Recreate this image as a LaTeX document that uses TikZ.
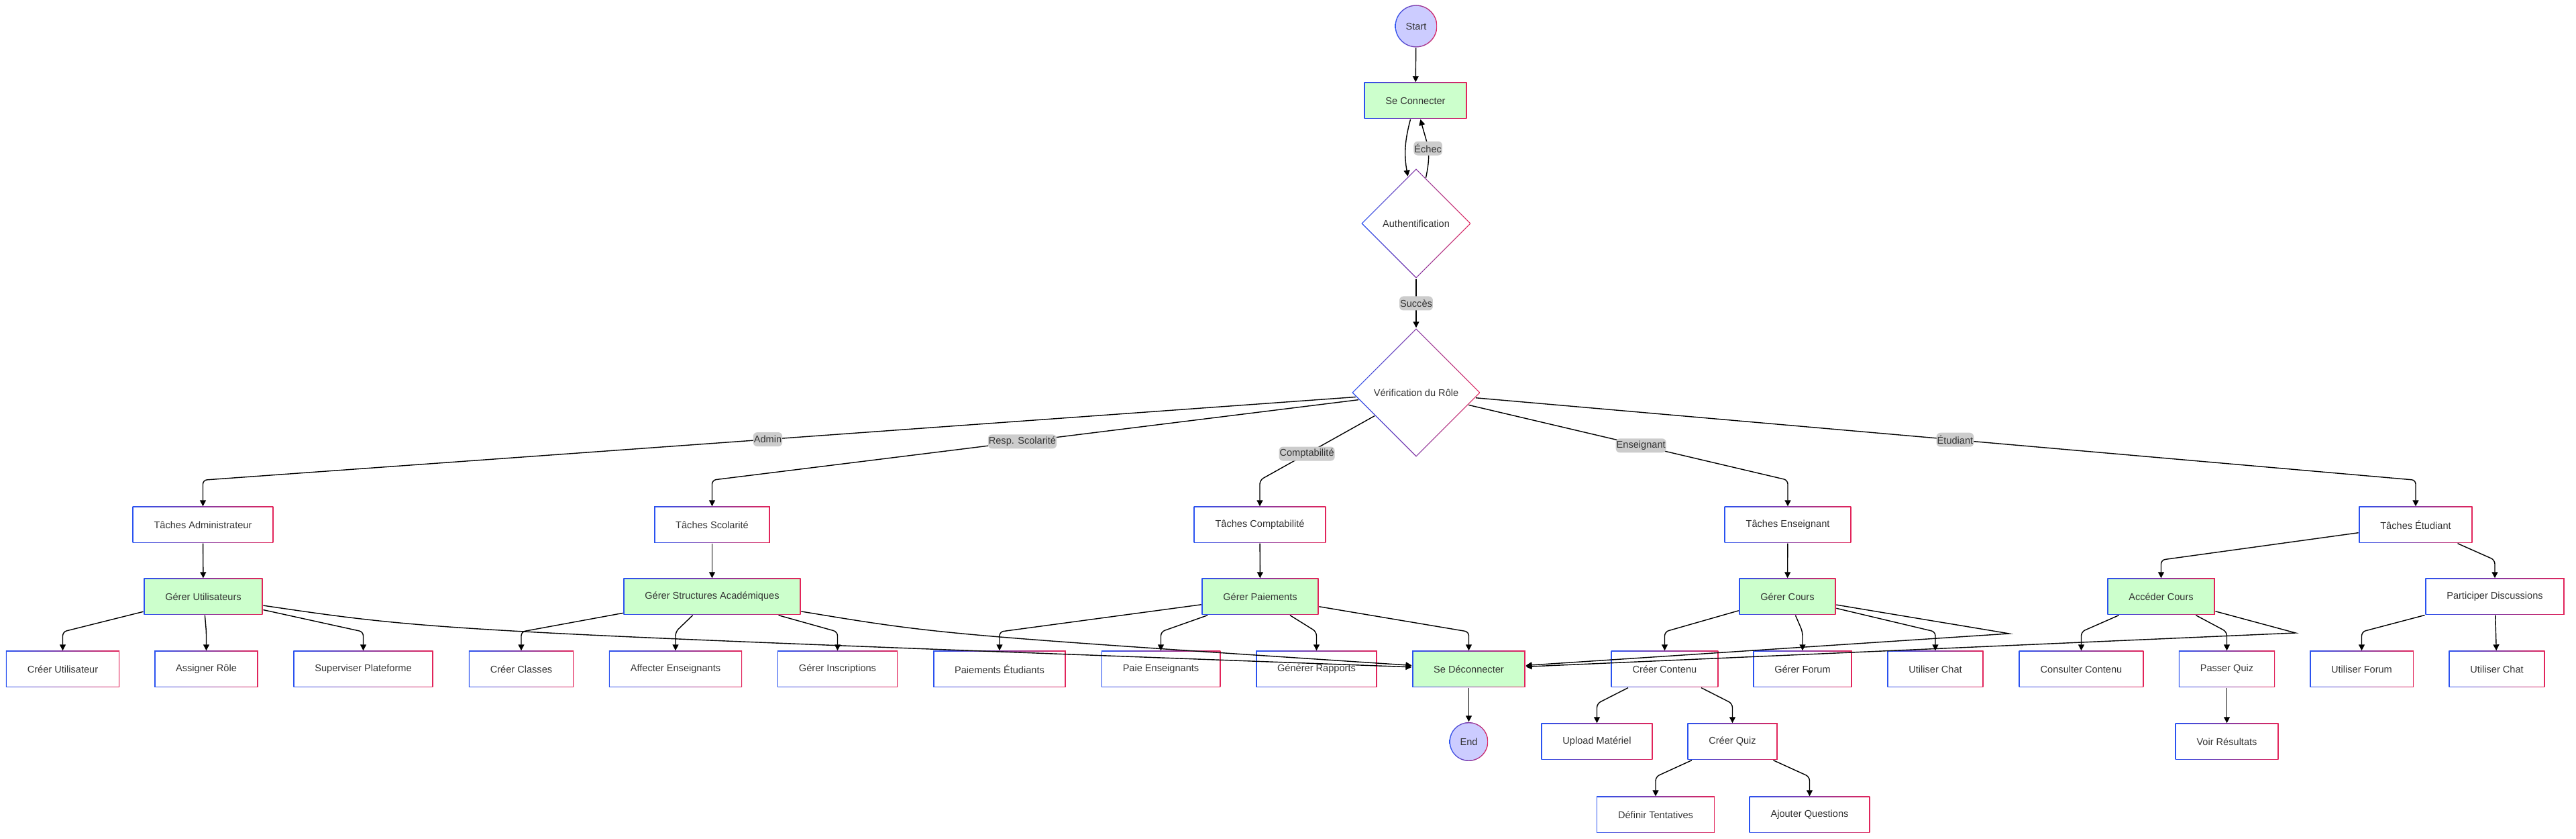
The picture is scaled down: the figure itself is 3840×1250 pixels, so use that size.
\documentclass[tikz,border=0pt]{standalone}
\usepackage{fontspec}
\setmainfont{Liberation Sans}
\usetikzlibrary{calc, positioning, shapes, arrows.meta}

\definecolor{bordblue}{HTML}{2A52F0}
\definecolor{bordred}{HTML}{E2245A}
\definecolor{greenfill}{HTML}{CCFFCC}
\definecolor{lavfill}{HTML}{CCCCFF}
\definecolor{txtgray}{HTML}{333333}
\definecolor{lblgray}{HTML}{CCCCCC}

\tikzset{
  gbox/.style={rectangle, fill=white, minimum height=5.4mm, inner xsep=3.2mm, inner ysep=0pt, text=txtgray,
    path picture={
      \shade[left color=bordblue, right color=bordred]
        (path picture bounding box.south west) rectangle (path picture bounding box.north east);
      \fill[#1]
        ([shift={(0.4pt,0.4pt)}]path picture bounding box.south west) rectangle
        ([shift={(-0.4pt,-0.4pt)}]path picture bounding box.north east);}},
  gbox/.default=white,
  decision/.style={diamond, aspect=1, inner sep=0pt, minimum width=#1, minimum height=#1, fill=white, text=txtgray,
    path picture={
      \shade[left color=bordblue, right color=bordred]
        (path picture bounding box.south west) rectangle (path picture bounding box.north east);
      \fill[white] ([yshift=-0.55pt]path picture bounding box.north) -- ([xshift=-0.55pt]path picture bounding box.east)
        -- ([yshift=0.55pt]path picture bounding box.south) -- ([xshift=0.55pt]path picture bounding box.west) -- cycle;}},
  startstop/.style={circle, inner sep=0pt, minimum size=#1, fill=lavfill, text=txtgray,
    path picture={
      \shade[left color=bordblue, right color=bordred]
        (path picture bounding box.south west) rectangle (path picture bounding box.north east);
      \fill[lavfill] (path picture bounding box.center) circle [radius={#1/2-0.4pt}];}},
  arr/.style={draw=black, line width=0.4pt, rounded corners=0.6mm, -{Triangle[length=0.9mm,width=0.9mm]}},
  elabel/.style={fill=lblgray, text=txtgray, inner xsep=0.3pt, inner ysep=0pt, minimum height=2.1mm}
}

\begin{document}
\begin{tikzpicture}[x=0.1mm, y=0.1mm, font=\fontsize{4.15pt}{5pt}\selectfont]
    \path[use as bounding box, fill=white] (0,0) rectangle (3840,-1250);

    % login
    \node[startstop=6.3mm] (start) at (2111,-39) {Start};
    \node[gbox=greenfill] (conn) at (2110,-150) {Se Connecter};
    \node[decision=16.4mm] (auth) at (2111,-333) {Authentification};
    \node[decision=19.2mm] (role) at (2111,-585) {Vérification du Rôle};

    % roles
    \node[gbox] (tadmin) at (302.5,-782) {Tâches Administrateur};
    \node[gbox] (tscol) at (1061.5,-782) {Tâches Scolarité};
    \node[gbox] (tcompta) at (1878,-782) {Tâches Comptabilité};
    \node[gbox] (tens) at (2665,-782) {Tâches Enseignant};
    \node[gbox] (tetu) at (3601,-782) {Tâches Étudiant};

    \node[gbox=greenfill] (gu) at (303,-889) {Gérer Utilisateurs};
    \node[gbox=greenfill] (gsa) at (1061.5,-889) {Gérer Structures Académiques};
    \node[gbox=greenfill] (gp) at (1878.5,-889) {Gérer Paiements};
    \node[gbox=greenfill] (gc) at (2664.5,-889) {Gérer Cours};
    \node[gbox=greenfill] (ac) at (3221.5,-889) {Accéder Cours};
    \node[gbox] (pd) at (3719,-889) {Participer Discussions};

    % tasks
    \node[gbox] (cu) at (93.5,-997) {Créer Utilisateur};
    \node[gbox] (ar) at (307.5,-997) {Assigner Rôle};
    \node[gbox] (sp) at (541.5,-997) {Superviser Plateforme};
    \node[gbox] (ccl) at (777,-997) {Créer Classes};
    \node[gbox] (ae) at (1007,-997) {Affecter Enseignants};
    \node[gbox] (gi) at (1248.5,-997) {Gérer Inscriptions};
    \node[gbox] (pe) at (1490,-997) {Paiements Étudiants};
    \node[gbox] (pae) at (1730.5,-997) {Paie Enseignants};
    \node[gbox] (gr) at (1962.5,-997) {Générer Rapports};
    \node[gbox=greenfill] (sd) at (2189.5,-997) {Se Déconnecter};
    \node[gbox] (cc) at (2481.5,-997) {Créer Contenu};
    \node[gbox] (gf) at (2687,-997) {Gérer Forum};
    \node[gbox] (uct) at (2885,-997) {Utiliser Chat};
    \node[gbox] (cons) at (3102.5,-997) {Consulter Contenu};
    \node[gbox] (pq) at (3319.5,-997) {Passer Quiz};
    \node[gbox] (uf) at (3520.5,-997) {Utiliser Forum};
    \node[gbox] (uce) at (3722,-997) {Utiliser Chat};

    \node[gbox] (um) at (2380.5,-1105) {Upload Matériel};
    \node[gbox] (cq) at (2582.5,-1105) {Créer Quiz};
    \node[gbox] (vr) at (3319.5,-1105) {Voir Résultats};
    \node[startstop=5.8mm] (end) at (2189.5,-1105) {End};

    \node[gbox] (dt) at (2468,-1214) {Définir Tentatives};
    \node[gbox] (aq) at (2697.5,-1214) {Ajouter Questions};

    \coordinate (kgc) at (2995,-944); %kink cours
    \coordinate (kac) at (3422,-943); %kink acces

    % edges
    \draw[arr] (start) -- (conn);
    \draw[arr] (conn) to[out=-105,in=100] (auth);
    \draw[arr] (auth) to[out=78,in=-75,looseness=1.2] node[elabel]{Échec} (conn);
    \draw[arr] (auth) -- node[elabel]{Succès} (role);

    \draw[arr] (role) -- node[elabel,pos=0.51]{Admin} ($(tadmin.north)+(0,39)$) -- (tadmin);
    \draw[arr] (role) -- node[elabel,pos=0.52]{Resp. Scolarité} ($(tscol.north)+(0,39)$) -- (tscol);
    \draw[arr] (role) -- node[elabel,pos=0.59]{Comptabilité} ($(tcompta.north)+(0,39)$) -- (tcompta);
    \draw[arr] (role) -- node[elabel,pos=0.54]{Enseignant} ($(tens.north)+(0,39)$) -- (tens);
    \draw[arr] (role) -- node[elabel,pos=0.51]{Étudiant} ($(tetu.north)+(0,39)$) -- (tetu);

    \draw[arr] (tadmin) -- (gu);
    \draw[arr] (tscol) -- (gsa);
    \draw[arr] (tcompta) -- (gp);
    \draw[arr] (tens) -- (gc);
    \draw[arr] (tetu) -- ($(ac.north)+(0,27)$) -- (ac);
    \draw[arr] (tetu) -- ($(pd.north)+(0,27)$) -- (pd);

    \draw[arr] (gu) -- ($(cu.north)+(0,28)$) -- (cu);
    \draw[arr] (gu) -- ($(ar.north)+(0,28)$) -- (ar);
    \draw[arr] (gu) -- ($(sp.north)+(0,28)$) -- (sp);
    \draw[arr] (gu) .. controls (650,-940) .. (sd);

    \draw[arr] (gsa) -- ($(ccl.north)+(0,28)$) -- (ccl);
    \draw[arr] (gsa) -- ($(ae.north)+(0,28)$) -- (ae);
    \draw[arr] (gsa) -- ($(gi.north)+(0,28)$) -- (gi);
    \draw[arr] (gsa) .. controls (1400,-945) .. (sd);

    \draw[arr] (gp) -- ($(pe.north)+(0,28)$) -- (pe);
    \draw[arr] (gp) -- ($(pae.north)+(0,28)$) -- (pae);
    \draw[arr] (gp) -- ($(gr.north)+(0,28)$) -- (gr);
    \draw[arr] (gp) -- ($(sd.north)+(0,28)$) -- (sd);

    \draw[arr] (gc) -- ($(cc.north)+(0,28)$) -- (cc);
    \draw[arr] (gc) -- ($(gf.north)+(0,28)$) -- (gf);
    \draw[arr] (gc) -- ($(uct.north)+(0,28)$) -- (uct);
    \draw[arr, sharp corners] (gc) -- (kgc) -- (sd);

    \draw[arr] (ac) -- ($(cons.north)+(0,28)$) -- (cons);
    \draw[arr] (ac) -- ($(pq.north)+(0,28)$) -- (pq);
    \draw[arr, sharp corners] (ac) -- (kac) -- (sd);

    \draw[arr] (pd) -- ($(uf.north)+(0,28)$) -- (uf);
    \draw[arr] (pd) -- (uce);

    \draw[arr] (cc) -- ($(um.north)+(0,29)$) -- (um);
    \draw[arr] (cc) -- ($(cq.north)+(0,29)$) -- (cq);
    \draw[arr] (cq) -- ($(dt.north)+(0,29)$) -- (dt);
    \draw[arr] (cq) -- ($(aq.north)+(0,29)$) -- (aq);
    \draw[arr] (pq) -- (vr);
    \draw[arr] (sd) -- (end);
\end{tikzpicture}
\end{document}
